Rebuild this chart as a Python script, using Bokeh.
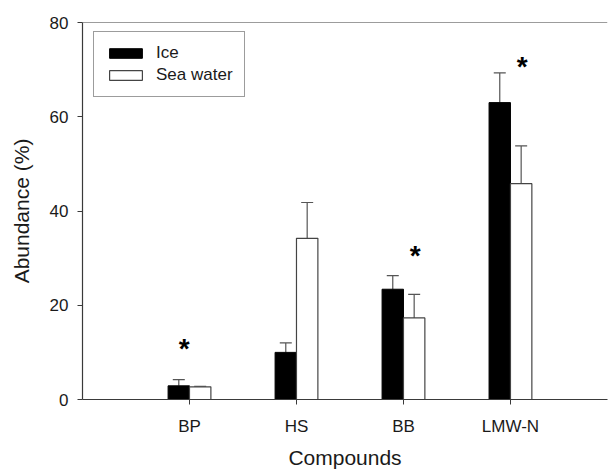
from bokeh.plotting import figure
from bokeh.models import (ColumnDataSource, FixedTicker, Whisker, TeeHead, Legend,
                          LegendItem, Span)
from bokeh.core.properties import value
from bokeh.embed import file_html
from bokeh.resources import INLINE

# ---- data ----
categories = ["BP", "HS", "BB", "LMW-N"]
cat_pos = [1, 2, 3, 4]
ice = [2.9, 10.0, 23.4, 63.0]
ice_err = [1.3, 2.0, 2.9, 6.3]
sea = [2.7, 34.2, 17.3, 45.8]
sea_err = [0.1, 7.6, 5.0, 8.0]
star_x = [0.95, 3.11, 4.11]
star_y = [10.8, 30.5, 70.6]

FONT = "Liberation Sans"
AX = "#3a3a3a"
TXT = "#1a1a1a"

offset = 0.1
bw = 0.2
ice_x = [c - offset for c in cat_pos]
sea_x = [c + offset for c in cat_pos]

src_ice = ColumnDataSource(dict(x=ice_x, top=ice, up=[v + e for v, e in zip(ice, ice_err)]))
src_sea = ColumnDataSource(dict(x=sea_x, top=sea, up=[v + e for v, e in zip(sea, sea_err)]))

p = figure(width=613, height=471, x_range=(0, 4.907), y_range=(0, 80),
           output_backend="svg", toolbar_location=None,
           min_border_left=82, min_border_top=22, min_border_bottom=68, min_border_right=6)
p.outline_line_color = None
p.grid.grid_line_color = None
p.background_fill_color = "white"
p.border_fill_color = "white"

# error bars (drawn first so bars cover the lower part)
for src in (src_ice, src_sea):
    w = Whisker(source=src, base="x", lower="top", upper="up", dimension="height",
                line_color="#555555", line_width=1.2,
                lower_head=None,
                upper_head=TeeHead(size=12, line_color="#555555", line_width=1.2))
    p.add_layout(w)

r_ice = p.vbar(x="x", top="top", width=bw, source=src_ice, fill_color="black",
               line_color="black", line_width=1)
r_sea = p.vbar(x="x", top="top", width=bw, source=src_sea, fill_color="white",
               line_color="#444444", line_width=1.2)

# significance asterisks
p.text(x=star_x, y=star_y, text=["*"] * len(star_x), text_font=value(FONT),
       text_font_size="28px", text_font_style="bold", text_color="black",
       text_align="center", text_baseline="middle")

# top frame line
p.add_layout(Span(location=80, dimension="width", line_color=AX, line_width=1.2))

# axes
p.xaxis.ticker = FixedTicker(ticks=cat_pos)
p.xaxis.major_label_overrides = {c: n for c, n in zip(cat_pos, categories)}
p.yaxis.ticker = FixedTicker(ticks=[0, 20, 40, 60, 80])
for ax in (p.xaxis, p.yaxis):
    ax.axis_line_color = AX
    ax.axis_line_width = 1.2
    ax.major_tick_line_color = AX
    ax.major_tick_in = 0
    ax.major_tick_out = 5
    ax.minor_tick_line_color = None
    ax.major_label_text_font = FONT
    ax.major_label_text_font_size = "17px"
    ax.major_label_text_color = TXT
    ax.axis_label_text_font = FONT
    ax.axis_label_text_font_size = "21px"
    ax.axis_label_text_font_style = "normal"
    ax.axis_label_text_color = TXT
p.xaxis.axis_label = "Compounds"
p.yaxis.axis_label = "Abundance (%)"
p.xaxis.major_label_standoff = 12
p.xaxis.axis_label_standoff = 7
p.yaxis.major_label_standoff = 9
p.yaxis.axis_label_standoff = 14

legend = Legend(items=[LegendItem(label="Ice", renderers=[r_ice]),
                       LegendItem(label="Sea water", renderers=[r_sea])],
                location=(11, 302), glyph_width=41, glyph_height=12,
                label_standoff=10, label_height=20, spacing=2, padding=11,
                label_text_font=FONT, label_text_font_size="17px",
                label_text_color=TXT, border_line_color=AX, border_line_width=1.2,
                background_fill_alpha=1.0, margin=0)
p.add_layout(legend)

open("out.html", "w").write(file_html(p, INLINE))
